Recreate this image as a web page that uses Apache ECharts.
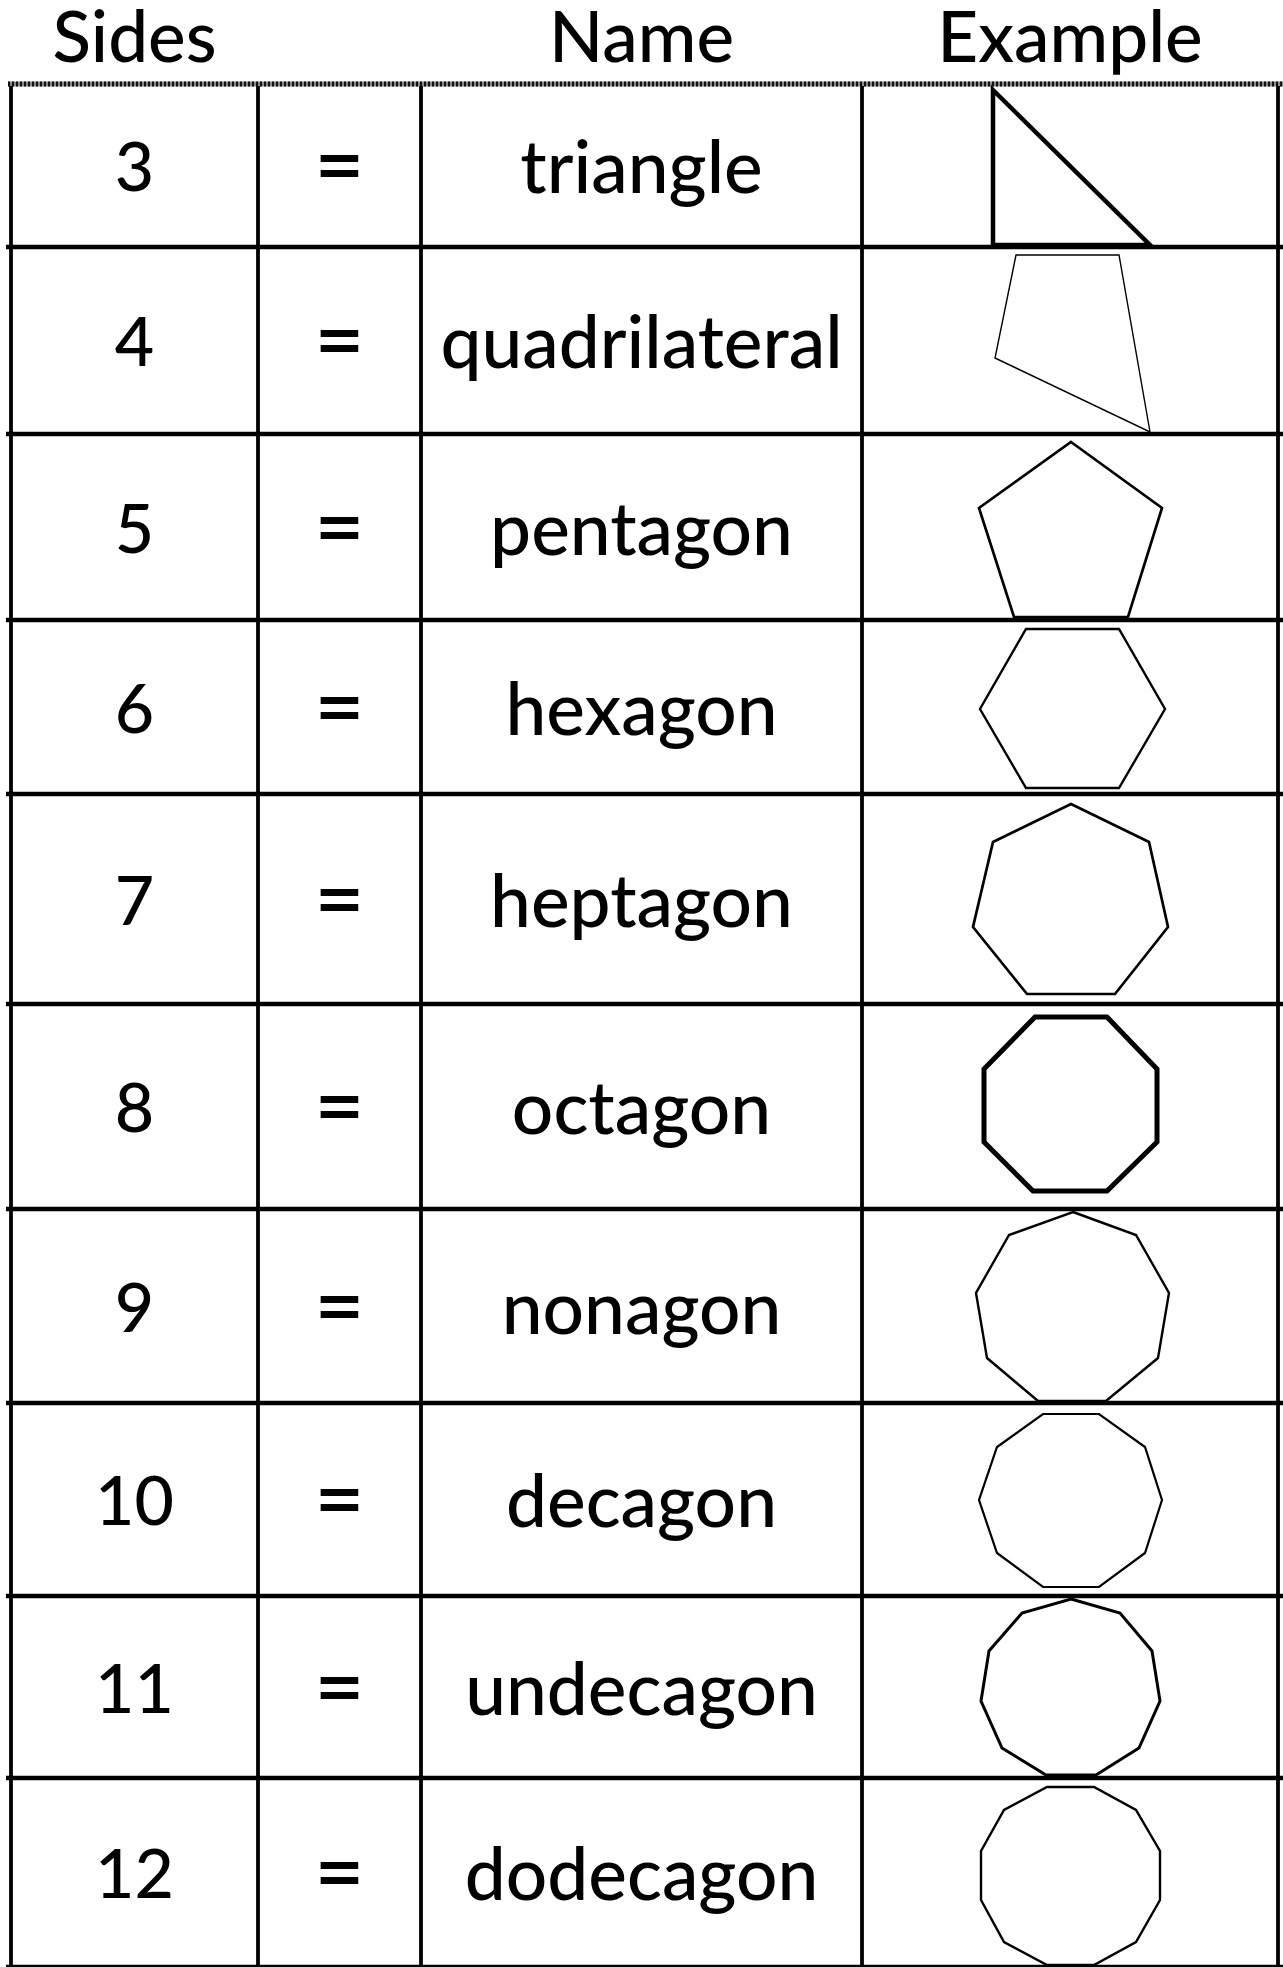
<!DOCTYPE html>
<html>
<head>
<meta charset="utf-8">
<script src="https://cdn.jsdelivr.net/npm/echarts@6/dist/echarts.min.js"></script>
<style>
  html, body { margin: 0; padding: 0; background: #fff; }
  #chart { width: 1283px; height: 1967px; }
</style>
</head>
<body>
<div id="chart"></div>
<script>
// table content
const headers = ["Sides", "Name", "Example"];
const sides = ["3", "4", "5", "6", "7", "8", "9", "10", "11", "12"];
const names = ["triangle", "quadrilateral", "pentagon", "hexagon", "heptagon",
  "octagon", "nonagon", "decagon", "undecagon", "dodecagon"];

// example shapes, outline points (page px)
const triangle = [[993, 90], [1150, 245], [993, 245]];
const quadrilateral = [[1016, 255], [1119, 255], [1150, 432], [995, 358]];
const pentagon = [[1071, 442], [1162, 508], [1128, 617], [1014, 617], [979, 508]];
const hexagon = [[1026, 629], [1119, 629], [1165, 709], [1119, 788], [1026, 788], [980, 709]];
const heptagon = [[1071, 804], [1149, 842], [1168, 927], [1115, 994], [1027, 994], [973, 927], [993, 842]];
const octagon = [[1035, 1017], [1107, 1017], [1157, 1069], [1157, 1142], [1107, 1191], [1033, 1191],
  [984, 1142], [984, 1069]];
const nonagon = [[1073, 1212], [1136, 1235], [1169, 1293], [1158, 1358], [1106, 1401], [1038, 1401],
  [987, 1358], [976, 1293], [1009, 1235]];
const decagon = [[1043, 1414], [1099, 1414], [1145, 1447], [1162, 1500], [1145, 1553], [1099, 1587],
  [1043, 1587], [997, 1553], [979, 1500], [997, 1447]];
const undecagon = [[1071, 1599], [1120, 1613], [1152, 1651], [1160, 1701], [1139, 1748], [1096, 1775],
  [1046, 1775], [1002, 1748], [981, 1701], [989, 1651], [1022, 1613]];
const dodecagon = [[1047, 1787], [1094, 1787], [1136, 1810], [1160, 1851], [1160, 1900], [1136, 1942],
  [1094, 1965], [1047, 1965], [1004, 1942], [981, 1900], [981, 1851], [1004, 1810]];

const shapes = [triangle, quadrilateral, pentagon, hexagon, heptagon,
  octagon, nonagon, decagon, undecagon, dodecagon];

// layout
const W = 1283, H = 1967;
const headerLine = 84;
const rowLines = [84, 247, 434, 620, 794, 1004, 1209, 1403, 1596, 1778, 1967];
const colLines = [11, 258, 421, 862, 1278];
const shapeStroke = [4.5, 1.4, 2.7, 2.4, 2.7, 5, 2.4, 2.2, 3, 2.4];
const FAMILY = "Lato, 'Noto Sans', sans-serif";
const headFont = "500 71px " + FAMILY;
const sideFont = "500 68px " + FAMILY;
const eqFont = "600 86px " + FAMILY;
const nameFont = "500 73px " + FAMILY;

function rowMid(i) {
  return (rowLines[i] + rowLines[i + 1]) / 2 + 4;
}
function colMid(i) {
  return (colLines[i] + colLines[i + 1]) / 2;
}

// cells of text: [x, y] per cell, text and font looked up by index
let textCells = [];
let textLabels = [];
let textFonts = [];
function addCell(x, y, t, f) {
  textCells.push([x, y]);
  textLabels.push(t);
  textFonts.push(f);
}
addCell(colMid(0), 39, headers[0], headFont);
addCell(colMid(2), 39, headers[1], headFont);
addCell(colMid(3), 39, headers[2], headFont);
for (let i = 0; i < sides.length; i++) {
  addCell(colMid(0), rowMid(i), sides[i], sideFont);
  addCell(colMid(1), rowMid(i) - 2, "=", eqFont);
  addCell(colMid(2), rowMid(i), names[i], nameFont);
}

var myChart = echarts.init(document.getElementById("chart"), null, { renderer: "canvas" });
myChart.setOption({
  animation: false,
  backgroundColor: "#fff",
  grid: { left: 0, right: 0, top: 0, bottom: 0 },
  xAxis: { type: "value", min: 0, max: W, show: false },
  yAxis: { type: "value", min: 0, max: H, inverse: true, show: false },
  series: [
    {
      // horizontal row lines
      type: "custom",
      z: 2,
      data: rowLines.slice(1).map((y) => [y]),
      renderItem: function (params, api) {
        const y = api.value(0);
        const a = api.coord([6, y]);
        const b = api.coord([W, y]);
        return {
          type: "line",
          shape: { x1: a[0], y1: a[1], x2: b[0], y2: b[1] },
          style: { stroke: "#000", lineWidth: 4.5 },
        };
      },
    },
    {
      // hatched header rule
      type: "custom",
      z: 2,
      data: [[headerLine]],
      renderItem: function (params, api) {
        const y = api.value(0);
        const a = api.coord([8, y]);
        const b = api.coord([W, y]);
        return {
          type: "group",
          children: [
            {
              type: "line",
              shape: { x1: a[0], y1: a[1], x2: b[0], y2: b[1] },
              style: { stroke: "#8a8a8a", lineWidth: 5 },
            },
            {
              type: "line",
              shape: { x1: a[0], y1: a[1], x2: b[0], y2: b[1] },
              style: { stroke: "#111", lineWidth: 5, lineDash: [2, 2] },
            },
          ],
        };
      },
    },
    {
      // column lines
      type: "custom",
      z: 2,
      data: colLines.map((x) => [x]),
      renderItem: function (params, api) {
        const x = api.value(0);
        const a = api.coord([x, headerLine + 2]);
        const b = api.coord([x, H]);
        return {
          type: "line",
          shape: { x1: a[0], y1: a[1], x2: b[0], y2: b[1] },
          style: { stroke: "#000", lineWidth: 3.8 },
        };
      },
    },
    {
      // example shapes
      type: "custom",
      z: 3,
      data: shapes.map((s, i) => [i]),
      renderItem: function (params, api) {
        const pts = shapes[params.dataIndex].map((p) => api.coord(p));
        return {
          type: "polygon",
          shape: { points: pts },
          style: {
            fill: "#fff",
            stroke: "#000",
            lineWidth: shapeStroke[params.dataIndex],
            lineJoin: "miter",
          },
        };
      },
    },
    {
      // texts
      type: "custom",
      z: 4,
      data: textCells,
      renderItem: function (params, api) {
        const p = api.coord([api.value(0), api.value(1)]);
        return {
          type: "text",
          x: p[0],
          y: p[1],
          style: {
            text: textLabels[params.dataIndex],
            font: textFonts[params.dataIndex],
            fill: "#000",
            align: "center",
            verticalAlign: "middle",
          },
        };
      },
    },
  ],
});
</script>
</body>
</html>
